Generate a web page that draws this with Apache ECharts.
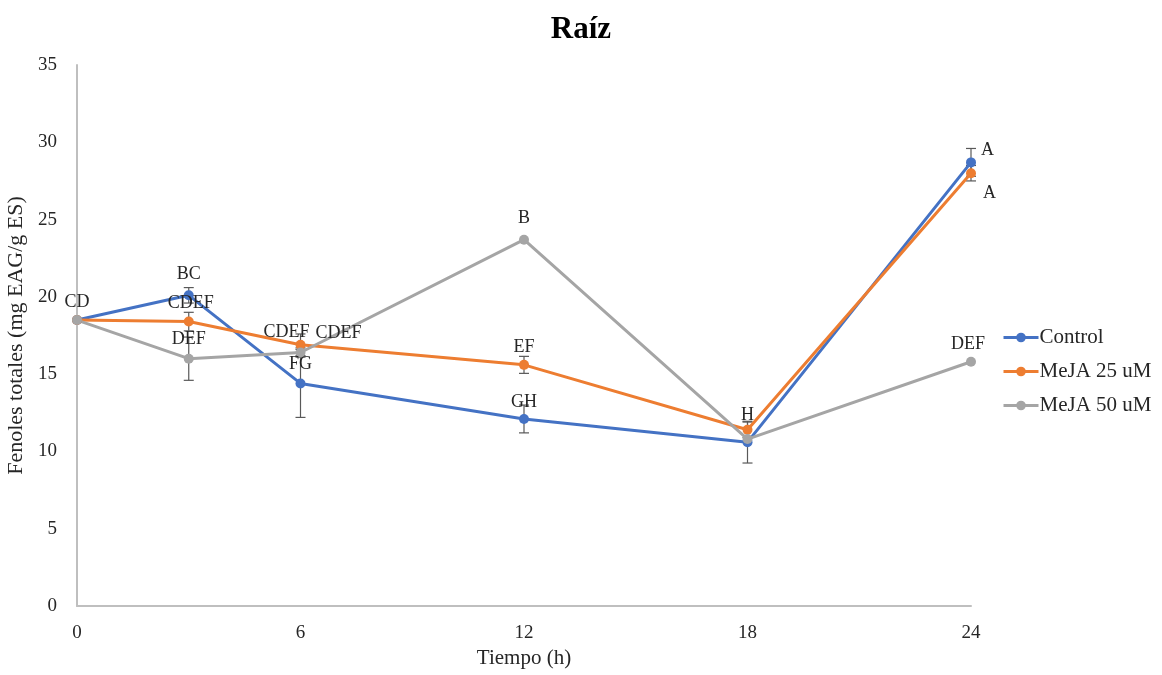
<!DOCTYPE html>
<html><head><meta charset="utf-8">
<script src="https://cdn.jsdelivr.net/npm/echarts@6/dist/echarts.min.js"></script>
<style>html,body{margin:0;padding:0;background:#fff}#c{width:1162px;height:675px}</style>
</head><body><div id="c"></div>
<script>
const times = [0, 3, 6, 12, 18, 24];
const seriesNames = ['Control', 'MeJA 25 uM', 'MeJA 50 uM'];
const control = [18.5, 20.1, 14.4, 12.1, 10.6, 28.7];
const meja25 = [18.5, 18.4, 16.9, 15.6, 11.4, 28.0];
const meja50 = [18.5, 16.0, 16.4, 23.7, 10.8, 15.8];
const controlErr = [0, 0.5, 2.2, 0.9, 1.35, 0.9];
const meja25Err = [0, 0.6, 0.7, 0.55, 0.5, 0.5];
const meja50Err = [0, 1.4, 0.3, 0, 0, 0];
const controlLetters = ['', 'BC', 'FG', 'GH', '', 'A'];
const meja25Letters = ['', 'CDEF', 'CDEF', 'EF', 'H', 'A'];
const meja50Letters = ['CD', 'DEF', 'CDEF', 'B', '', 'DEF'];
const xTicks = [0, 6, 12, 18, 24];

const colors = ['#4472C4', '#ED7D31', '#A5A5A5'];
const font = 'Liberation Serif';
const vals = [control, meja25, meja50];
const errs = [controlErr, meja25Err, meja50Err];
const letters = [controlLetters, meja25Letters, meja50Letters];
// label placement tweaks (style only)
const labelCfg = [
  [null, {position:'top', offset:[0,-2]}, {position:'top', offset:[0,0]}, {position:'top', offset:[0,2]}, null, {position:'right', offset:[0,-12]}],
  [null, {position:'top', offset:[2,1]}, {position:'top', offset:[-14,6]}, {position:'top', offset:[0,1]}, {position:'top', offset:[0,4]}, {position:'right', offset:[2,20]}],
  [{position:'top', offset:[0,1]}, {position:'top', offset:[0,0]}, {position:'top', offset:[38,0]}, {position:'top', offset:[0,-2]}, null, {position:'top', offset:[-3,1]}]
];

const series = [];
vals.forEach((v, si) => {
  const d = [];
  v.forEach((y, i) => { if (errs[si][i] > 0) d.push([times[i], y - errs[si][i], y + errs[si][i]]); });
  series.push({
    type: 'custom', z: 1, silent: true,
    renderItem: (params, api) => {
      const x = api.value(0);
      const lo = api.coord([x, api.value(1)]);
      const hi = api.coord([x, api.value(2)]);
      const w = 5;
      const st = {stroke: '#595959', lineWidth: 1.2};
      return {type: 'group', children: [
        {type: 'line', shape: {x1: lo[0], y1: lo[1], x2: hi[0], y2: hi[1]}, style: st},
        {type: 'line', shape: {x1: lo[0]-w, y1: lo[1], x2: lo[0]+w, y2: lo[1]}, style: st},
        {type: 'line', shape: {x1: hi[0]-w, y1: hi[1], x2: hi[0]+w, y2: hi[1]}, style: st}
      ]};
    },
    encode: {x: 0, y: [1, 2]},
    data: d
  });
});
vals.forEach((v, si) => {
  series.push({
    name: seriesNames[si], type: 'line', z: 3,
    symbol: 'circle', symbolSize: 10,
    lineStyle: {width: 3, color: colors[si]},
    itemStyle: {color: colors[si]},
    data: v.map((y, i) => {
      const lab = letters[si][i];
      const cfg = labelCfg[si][i];
      const item = {value: [times[i], y]};
      if (lab && cfg) {
        item.label = Object.assign({show: true, formatter: lab, color: '#262626', fontFamily: font, fontSize: 18}, cfg);
      } else item.label = {show: false};
      return item;
    })
  });
});

const chart = echarts.init(document.getElementById('c'));
chart.setOption({
  animation: false,
  color: colors,
  title: {text: 'Raíz', left: 'center', top: 9, textStyle: {fontFamily: font, fontSize: 31, fontWeight: 'bold', color: '#000'}},
  grid: {left: 77, right: 191, top: 65, bottom: 69, containLabel: false, outerBoundsMode: 'none'},
  legend: {
    data: seriesNames, orient: 'vertical', left: 997, top: 322, itemGap: 13,
    itemWidth: 35, itemHeight: 12,
    lineStyle: {width: 3},
    textStyle: {fontFamily: font, fontSize: 21, color: '#262626', padding: [0,0,0,-4]}
  },
  xAxis: {
    type: 'value', min: 0, max: 24, interval: 6,
    name: 'Tiempo (h)', nameLocation: 'middle', nameGap: 34,
    nameTextStyle: {fontFamily: font, fontSize: 21, color: '#262626'},
    axisLine: {lineStyle: {color: '#BFBFBF', width: 2}},
    axisTick: {show: false}, splitLine: {show: false},
    axisLabel: {fontFamily: font, fontSize: 19, color: '#262626', margin: 18,
      formatter: v => xTicks.includes(v) ? String(v) : ''}
  },
  yAxis: {
    type: 'value', min: 0, max: 35, interval: 5,
    name: 'Fenoles totales (mg EAG/g ES)', nameLocation: 'middle', nameGap: 42,
    nameTextStyle: {fontFamily: font, fontSize: 22, color: '#262626'},
    axisLine: {show: true, lineStyle: {color: '#BFBFBF', width: 2}},
    axisTick: {show: false}, splitLine: {show: false},
    axisLabel: {fontFamily: font, fontSize: 19, color: '#262626', margin: 20}
  },
  series: series
});
</script>
</body></html>
